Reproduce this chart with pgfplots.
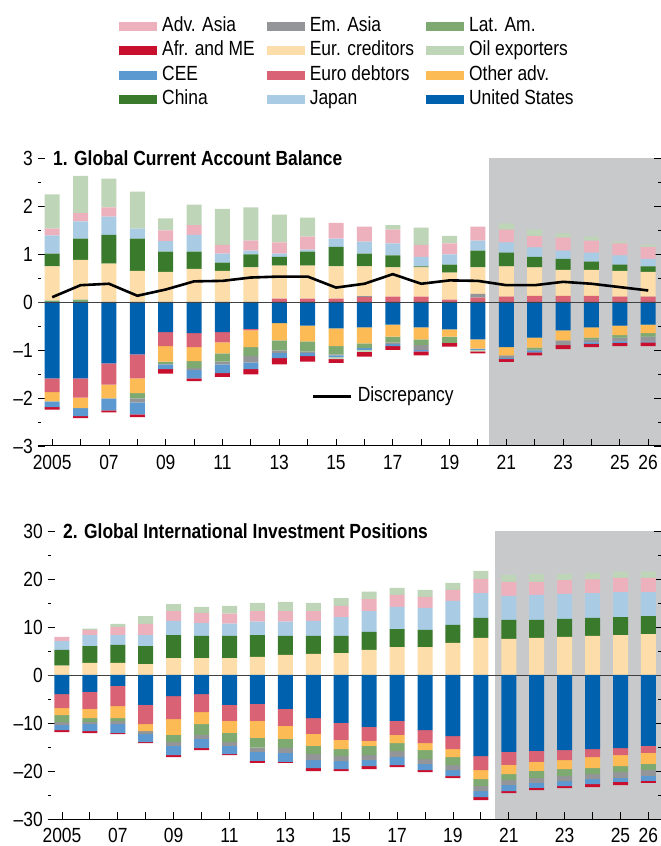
\documentclass[border=0pt]{standalone}
\usepackage{pgfplots}
\pgfplotsset{compat=1.18}
\usepackage{pgfplotstable}
\usepackage{fontspec}
\setmainfont{Liberation Sans}[FakeStretch=0.85]

\definecolor{cAdvAsia}{HTML}{ECB1BD}
\definecolor{cAfr}{HTML}{C8102E}
\definecolor{cCEE}{HTML}{5B99D0}
\definecolor{cChina}{HTML}{3A7A2C}
\definecolor{cEmAsia}{HTML}{939598}
\definecolor{cEurCred}{HTML}{FDDDA9}
\definecolor{cEuroDebt}{HTML}{D96274}
\definecolor{cJapan}{HTML}{AACBE4}
\definecolor{cLatAm}{HTML}{7EAA72}
\definecolor{cOil}{HTML}{BED5B8}
\definecolor{cOtherAdv}{HTML}{FDBB56}
\definecolor{cUS}{HTML}{0061AE}
\definecolor{cShade}{HTML}{C8C9CB}

\newcommand\lbl{\fontsize{20.5bp}{24bp}\selectfont}

% Panel 1 positive
\pgfplotstableread{
year ED LA EA EC CN JP AA OIL
2005 0 0.03 0 0.71 0.27 0.38 0.14 0.71
2006 0 0.05 0 0.83 0.44 0.36 0.17 0.78
2007 0 0 0 0.80 0.60 0.38 0.19 0.60
2008 0 0 0 0.65 0.67 0.21 0 0.77
2009 0 0 0 0.63 0.42 0.22 0.22 0.25
2010 0 0 0 0.69 0.36 0.35 0.20 0.43
2011 0 0 0 0.65 0.17 0.19 0.18 0.75
2012 0 0 0 0.72 0.27 0.08 0.21 0.69
2013 0.07 0 0 0.69 0.18 0.07 0.23 0.58
2014 0.07 0 0 0.69 0.29 0.04 0.27 0.40
2015 0.07 0 0 0.67 0.41 0.17 0.33 0
2016 0.10 0 0.02 0.62 0.27 0.25 0.31 0
2017 0.11 0 0 0.61 0.25 0.25 0.29 0.09
2018 0.11 0 0 0.61 0.02 0.20 0.25 0.36
2019 0.05 0 0 0.56 0.17 0.21 0.23 0.16
2020 0.09 0 0.08 0.55 0.35 0.21 0.29 0
2021 0.11 0 0 0.63 0.29 0.21 0.27 0.13
2022 0.13 0 0 0.59 0.22 0.20 0.24 0.13
2023 0.13 0 0 0.54 0.23 0.17 0.27 0.09
2024 0.13 0 0 0.54 0.17 0.19 0.25 0.08
2025 0.11 0 0 0.54 0.13 0.19 0.25 0.04
2026 0.11 0 0 0.52 0.11 0.16 0.25 0.04
}\posA
% Panel 1 negative
\pgfplotstableread{
year US ED OA LA EA CEE OIL AFR
2005 -1.59 -0.29 -0.19 0 0 -0.12 0 -0.05
2006 -1.59 -0.40 -0.22 0 0 -0.17 0 -0.04
2007 -1.28 -0.44 -0.29 0 0 -0.25 0 -0.04
2008 -1.09 -0.50 -0.31 -0.11 -0.08 -0.25 0 -0.06
2009 -0.63 -0.29 -0.32 -0.05 -0.01 -0.10 0 -0.09
2010 -0.65 -0.29 -0.29 -0.15 -0.04 -0.17 0 -0.06
2011 -0.63 -0.21 -0.23 -0.17 -0.06 -0.18 0 -0.08
2012 -0.56 -0.03 -0.35 -0.19 -0.13 -0.14 0 -0.11
2013 -0.44 0 -0.36 -0.21 -0.05 -0.11 0 -0.13
2014 -0.49 0 -0.33 -0.21 -0.03 -0.07 0 -0.11
2015 -0.55 0 -0.37 -0.17 -0.02 -0.04 -0.04 -0.08
2016 -0.53 0 -0.33 -0.10 0 -0.04 -0.04 -0.10
2017 -0.47 0 -0.25 -0.12 -0.04 -0.04 0 -0.08
2018 -0.53 0 -0.25 -0.12 -0.10 -0.03 0 -0.08
2019 -0.57 0 -0.15 -0.13 0 0 0 -0.08
2020 -0.78 0 -0.19 0 0 -0.03 -0.03 -0.04
2021 -0.94 0 -0.17 0 -0.06 -0.02 0 -0.06
2022 -0.74 0 -0.21 -0.04 -0.02 -0.04 0 -0.06
2023 -0.59 0 -0.21 0 -0.10 0 0 -0.08
2024 -0.53 0 -0.21 -0.04 -0.06 -0.03 0 -0.07
2025 -0.49 0 -0.20 -0.05 -0.08 -0.03 0 -0.07
2026 -0.47 0 -0.18 -0.07 -0.10 -0.02 0 -0.08
}\negA
% Discrepancy
\pgfplotstableread{
year D
2005 0.10
2006 0.35
2007 0.38
2008 0.13
2009 0.26
2010 0.43
2011 0.44
2012 0.51
2013 0.53
2014 0.53
2015 0.30
2016 0.38
2017 0.58
2018 0.38
2019 0.45
2020 0.44
2021 0.35
2022 0.35
2023 0.42
2024 0.38
2025 0.31
2026 0.24
}\discA
% Panel 2 positive
\pgfplotstableread{
year EC CN JP AA OIL
2005 1.94 3.27 1.87 0.84 0
2006 2.50 3.54 2.29 1.05 0.27
2007 2.50 3.75 2.08 1.67 0.63
2008 2.29 3.75 2.29 2.30 1.66
2009 3.54 4.79 2.92 2.08 1.46
2010 3.54 4.59 2.70 2.09 1.25
2011 3.54 4.59 2.56 2.09 1.60
2012 3.75 4.58 2.78 2.22 1.67
2013 4.17 3.96 2.98 2.22 1.88
2014 4.38 3.75 3.12 2.08 1.67
2015 4.58 3.55 3.95 2.30 1.66
2016 5.21 3.75 4.37 2.50 1.53
2017 5.83 3.75 4.59 2.50 1.46
2018 5.83 3.55 4.58 2.29 1.46
2019 6.67 3.75 5.00 2.29 1.46
2020 7.71 4.17 5.20 2.92 1.67
2021 7.50 3.96 5.00 2.92 1.45
2022 7.71 3.75 5.21 2.71 1.66
2023 7.92 3.75 5.21 2.91 1.25
2024 8.13 3.75 5.20 2.85 1.32
2025 8.33 3.75 5.21 2.92 1.32
2026 8.54 3.75 5.00 2.92 1.32
}\posB
% Panel 2 negative
\pgfplotstableread{
year US ED OA LA EA CEE AFR
2005 -3.96 -2.92 -1.46 -1.46 -0.63 -1.04 -0.42
2006 -3.54 -3.54 -1.88 -0.83 -0.42 -1.46 -0.42
2007 -2.29 -4.17 -2.50 -0.63 -0.63 -1.88 -0.21
2008 -6.25 -3.96 -1.46 0 -0.63 -1.67 -0.21
2009 -4.38 -4.79 -3.33 -1.46 -0.83 -1.88 -0.42
2010 -3.96 -3.75 -2.50 -2.29 -0.83 -1.88 -0.42
2011 -6.25 -3.33 -2.50 -1.88 -0.83 -1.67 -0.21
2012 -6.04 -3.54 -3.54 -2.00 -0.90 -1.88 -0.42
2013 -7.08 -3.54 -2.70 -1.94 -0.97 -1.88 -0.20
2014 -8.96 -3.33 -2.50 -1.67 -1.25 -1.67 -0.63
2015 -10.00 -3.54 -1.88 -1.46 -1.04 -1.67 -0.42
2016 -10.83 -2.92 -1.04 -1.88 -1.04 -1.25 -0.63
2017 -9.58 -2.92 -1.67 -1.67 -1.25 -1.67 -0.42
2018 -11.46 -2.71 -1.46 -1.88 -1.04 -1.25 -0.42
2019 -12.71 -2.71 -1.67 -1.67 -1.04 -1.25 -0.42
2020 -16.88 -2.92 -1.88 -1.46 -1.04 -1.25 -0.63
2021 -16.04 -2.71 -1.88 -1.25 -1.04 -1.25 -0.42
2022 -15.83 -2.29 -1.88 -1.46 -1.04 -1.04 -0.42
2023 -15.63 -2.08 -1.88 -1.46 -1.04 -1.04 -0.42
2024 -15.42 -1.67 -2.29 -1.25 -1.04 -1.04 -0.63
2025 -15.21 -1.46 -2.29 -1.25 -1.25 -0.83 -0.63
2026 -14.79 -1.46 -2.29 -1.25 -1.25 -1.04 -0.42
}\negB

\pgfplotsset{
  base/.style={scale only axis, height=288bp, xmin=2004.5, xmax=2026.45, clip=false, anchor=south west},
  frame/.style={base, ybar stacked, bar width=15bp,
    axis line style={draw=none},
    xtick={2005,...,2026},
    xticklabels={2005,,07,,09,,11,,13,,15,,17,,19,,21,,23,,25,26},
    xtick pos=left, ytick pos=both, yticklabel pos=left,
    tick align=inside, major tick length=7bp, minor tick length=3.3bp,
    minor y tick num=1,
    tick style={black, line width=0.8bp},
    every minor tick/.style={black, line width=0.8bp},
    tick label style={font=\lbl, inner sep=0bp},
    yticklabel style={xshift=-5bp},
    xticklabel style={yshift=-9bp},
  },
  stk/.style={base, ybar stacked, bar width=15bp, hide axis},
  plain/.style={base, hide axis},
  bar/.style={draw=none, fill=#1, forget plot},
}

\begin{document}
\begin{tikzpicture}
\useasboundingbox (0,0) rectangle (661bp,846bp);

%%%%%%%%%%%%%%%% Panel 1
% shaded projection area (drawn first, behind everything)
\begin{axis}[plain, width=623bp, at={(38bp,400bp)}, ymin=-3, ymax=3]
\fill[cShade] (axis cs:2020.4,-3) rectangle (axis cs:2026.45,3);
\end{axis}

\begin{axis}[frame, width=623bp, at={(38bp,400bp)}, ymin=-3, ymax=3,
  ytick={-3,-2,...,3}, yticklabels={–3,–2,–1,0,1,2,3},
  legend columns=3, legend cell align=left,
  legend image code/.code={\fill[#1] (0bp,-4.5bp) rectangle (38bp,4.5bp);},
  legend style={at={(0.13,1.488)}, anchor=north west, draw=none, fill=none,
    inner sep=0pt, font=\lbl, row sep=6.3bp,
    nodes={inner sep=0bp, text height=14bp, text depth=4bp},
    /tikz/every odd column/.append style={column sep=5bp},
    /tikz/every even column/.append style={column sep=12bp}},
]
\addplot[bar=cEuroDebt] table[x=year,y=ED]{\posA};
\addplot[bar=cLatAm] table[x=year,y=LA]{\posA};
\addplot[bar=cEmAsia] table[x=year,y=EA]{\posA};
\addplot[bar=cEurCred] table[x=year,y=EC]{\posA};
\addplot[bar=cChina] table[x=year,y=CN]{\posA};
\addplot[bar=cJapan] table[x=year,y=JP]{\posA};
\addplot[bar=cAdvAsia] table[x=year,y=AA]{\posA};
\addplot[bar=cOil] table[x=year,y=OIL]{\posA};
\addlegendimage{fill=cAdvAsia, draw=none}\addlegendentry{Adv. Asia}
\addlegendimage{fill=cEmAsia, draw=none}\addlegendentry{Em. Asia}
\addlegendimage{fill=cLatAm, draw=none}\addlegendentry{Lat. Am.}
\addlegendimage{fill=cAfr, draw=none}\addlegendentry{Afr. and ME}
\addlegendimage{fill=cEurCred, draw=none}\addlegendentry{Eur. creditors}
\addlegendimage{fill=cOil, draw=none}\addlegendentry{Oil exporters}
\addlegendimage{fill=cCEE, draw=none}\addlegendentry{CEE}
\addlegendimage{fill=cEuroDebt, draw=none}\addlegendentry{Euro debtors}
\addlegendimage{fill=cOtherAdv, draw=none}\addlegendentry{Other adv.}
\addlegendimage{fill=cChina, draw=none}\addlegendentry{China}
\addlegendimage{fill=cJapan, draw=none}\addlegendentry{Japan}
\addlegendimage{fill=cUS, draw=none}\addlegendentry{United States}
\draw[black, line width=1bp] (rel axis cs:0,0) -- (rel axis cs:1,0);
\node[anchor=west, font=\bfseries\lbl, inner sep=0bp] at (rel axis cs:0,1) [xshift=15bp] {1. Global Current Account Balance};
\end{axis}

\begin{axis}[stk, width=623bp, at={(38bp,400bp)}, ymin=-3, ymax=3]
\addplot[bar=cUS] table[x=year,y=US]{\negA};
\addplot[bar=cEuroDebt] table[x=year,y=ED]{\negA};
\addplot[bar=cOtherAdv] table[x=year,y=OA]{\negA};
\addplot[bar=cLatAm] table[x=year,y=LA]{\negA};
\addplot[bar=cEmAsia] table[x=year,y=EA]{\negA};
\addplot[bar=cCEE] table[x=year,y=CEE]{\negA};
\addplot[bar=cOil] table[x=year,y=OIL]{\negA};
\addplot[bar=cAfr] table[x=year,y=AFR]{\negA};
\end{axis}

\begin{axis}[plain, width=623bp, at={(38bp,400bp)}, ymin=-3, ymax=3,
  legend cell align=left,
  legend image code/.code={\draw[#1] (0bp,0bp) -- (38bp,0bp);},
  legend style={at={(0.4398,0.1726)}, anchor=west, draw=none, fill=none,
    inner sep=0pt, font=\lbl,
    nodes={inner sep=0bp, text height=14bp, text depth=4bp},
    /tikz/every odd column/.append style={column sep=5bp}},
]
\draw[black!75, line width=0.9bp] (axis cs:2004.5,0) -- (axis cs:2026.45,0);
\addplot[black, line width=2.6bp, sharp plot, mark=none] table[x=year,y=D]{\discA};
\addlegendentry{Discrepancy}
\end{axis}

%%%%%%%%%%%%%%%% Panel 2
\begin{axis}[plain, width=613bp, at={(48bp,27bp)}, ymin=-30, ymax=30]
\fill[cShade] (axis cs:2020.5,-30) rectangle (axis cs:2026.45,30);
\end{axis}

\begin{axis}[frame, width=613bp, at={(48bp,27bp)}, ymin=-30, ymax=30,
  ytick={-30,-20,...,30}, yticklabels={–30,–20,–10,0,10,20,30}]
\addplot[bar=cEurCred] table[x=year,y=EC]{\posB};
\addplot[bar=cChina] table[x=year,y=CN]{\posB};
\addplot[bar=cJapan] table[x=year,y=JP]{\posB};
\addplot[bar=cAdvAsia] table[x=year,y=AA]{\posB};
\addplot[bar=cOil] table[x=year,y=OIL]{\posB};
\draw[black, line width=1bp] (rel axis cs:0,0) -- (rel axis cs:1,0);
\node[anchor=west, font=\bfseries\lbl, inner sep=0bp] at (rel axis cs:0,1) [xshift=15bp] {2. Global International Investment Positions};
\end{axis}

\begin{axis}[stk, width=613bp, at={(48bp,27bp)}, ymin=-30, ymax=30]
\addplot[bar=cUS] table[x=year,y=US]{\negB};
\addplot[bar=cEuroDebt] table[x=year,y=ED]{\negB};
\addplot[bar=cOtherAdv] table[x=year,y=OA]{\negB};
\addplot[bar=cLatAm] table[x=year,y=LA]{\negB};
\addplot[bar=cEmAsia] table[x=year,y=EA]{\negB};
\addplot[bar=cCEE] table[x=year,y=CEE]{\negB};
\addplot[bar=cAfr] table[x=year,y=AFR]{\negB};
\draw[black!75, line width=0.9bp] (axis cs:2004.5,0) -- (axis cs:2026.45,0);
\end{axis}

\end{tikzpicture}
\end{document}
